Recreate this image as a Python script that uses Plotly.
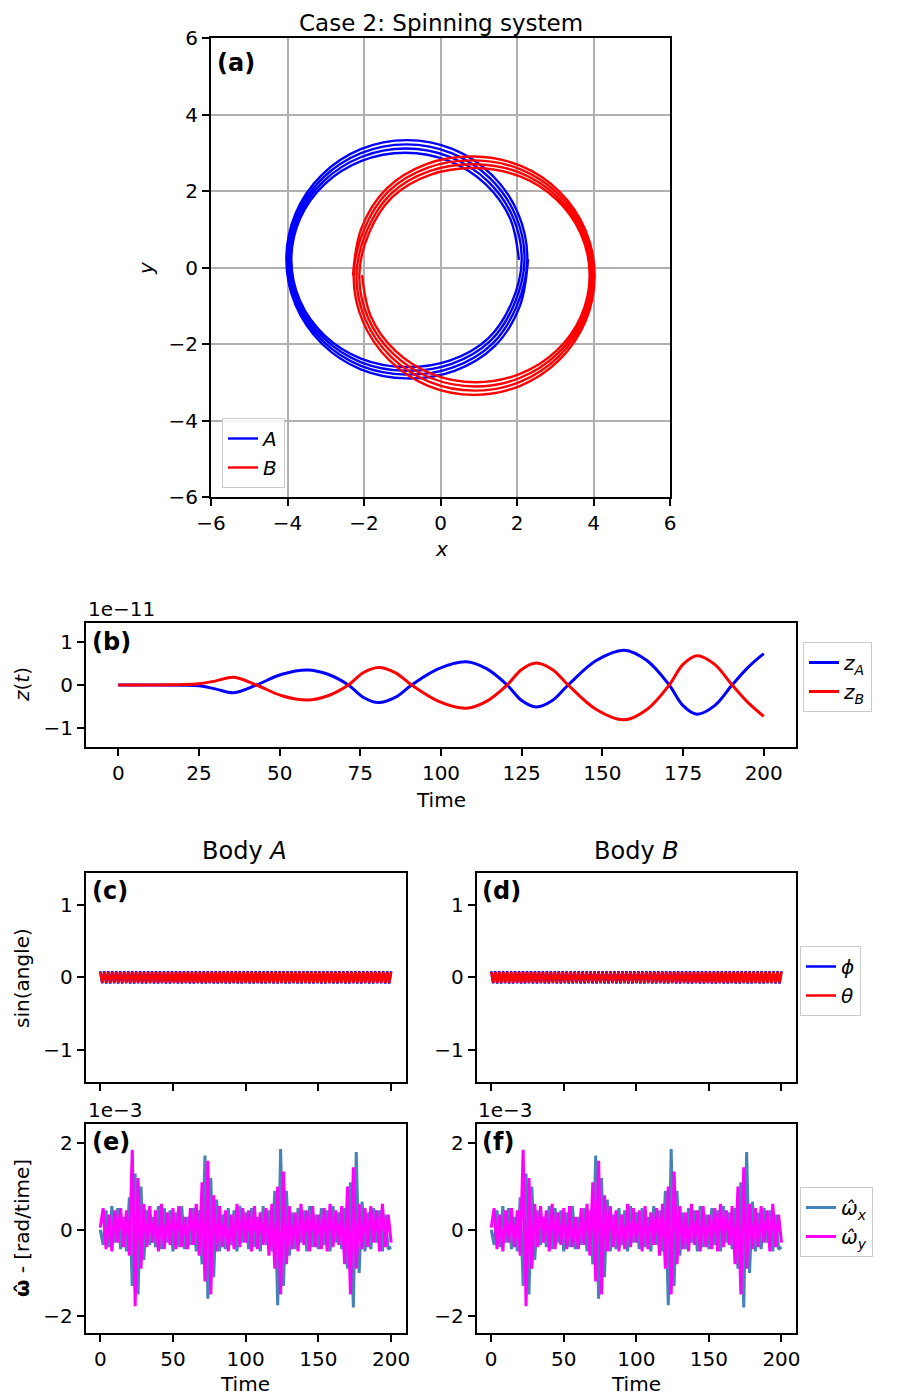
import numpy as np
import plotly.graph_objects as go

# page body has an 8px margin: the figure is placed at (8, 8)
OFF = 8
W, H = 904 - OFF, 1397 - OFF
FONT = "DejaVu Sans"

# ---------------- (a) orbits in the x-y plane ----------------
orbit_A_x = [2.050, 1.824, 1.178, 0.214, -0.925, -2.064, -3.028, -3.674, -3.900, -3.674, -3.028, -2.064, -0.925, 0.254, 1.248, 1.864,
             2.123, 1.892, 1.234, 0.252, -0.910, -2.072, -3.054, -3.712, -3.943, -3.712, -3.054, -2.072, -0.910, 0.292, 1.304, 1.932,
             2.197, 1.962, 1.291, 0.289, -0.895, -2.079, -3.081, -3.752, -3.987, -3.752, -3.081, -2.079, -0.895, 0.329, 1.361, 2.002,
             2.270, 2.031, 1.347, 0.326, -0.880, -2.086, -3.107, -3.791, -4.030, -3.791, -3.107, -2.086, -0.880, 0.366, 1.417, 2.071,
             2.290]
orbit_A_y = [0.200, 1.272, 2.180, 2.787, 3.000, 2.787, 2.180, 1.272, 0.200, -0.872, -1.780, -2.387, -2.600, -2.427, -1.850, -0.912,
             0.205, 1.318, 2.259, 2.889, 3.110, 2.889, 2.259, 1.318, 0.205, -0.908, -1.849, -2.479, -2.700, -2.519, -1.919, -0.948,
             0.210, 1.363, 2.338, 2.991, 3.220, 2.991, 2.338, 1.363, 0.210, -0.943, -1.918, -2.571, -2.800, -2.611, -1.988, -0.983,
             0.215, 1.408, 2.417, 3.093, 3.330, 3.093, 2.417, 1.408, 0.215, -0.978, -1.987, -2.663, -2.900, -2.703, -2.057, -1.018,
             0.220]
orbit_B_x = [-2.050, -1.824, -1.178, -0.214, 0.925, 2.064, 3.028, 3.674, 3.900, 3.674, 3.028, 2.064, 0.925, -0.254, -1.248, -1.864,
             -2.123, -1.892, -1.234, -0.252, 0.910, 2.072, 3.054, 3.712, 3.943, 3.712, 3.054, 2.072, 0.910, -0.292, -1.304, -1.932,
             -2.197, -1.962, -1.291, -0.289, 0.895, 2.079, 3.081, 3.752, 3.987, 3.752, 3.081, 2.079, 0.895, -0.329, -1.361, -2.002,
             -2.270, -2.031, -1.347, -0.326, 0.880, 2.086, 3.107, 3.791, 4.030, 3.791, 3.107, 2.086, 0.880, -0.366, -1.417, -2.071,
             -2.290]
orbit_B_y = [-0.200, -1.272, -2.180, -2.787, -3.000, -2.787, -2.180, -1.272, -0.200, 0.872, 1.780, 2.387, 2.600, 2.427, 1.850, 0.912,
             -0.205, -1.318, -2.259, -2.889, -3.110, -2.889, -2.259, -1.318, -0.205, 0.908, 1.849, 2.479, 2.700, 2.519, 1.919, 0.948,
             -0.210, -1.363, -2.338, -2.991, -3.220, -2.991, -2.338, -1.363, -0.210, 0.943, 1.918, 2.571, 2.800, 2.611, 1.988, 0.983,
             -0.215, -1.408, -2.417, -3.093, -3.330, -3.093, -2.417, -1.408, -0.215, 0.978, 1.987, 2.663, 2.900, 2.703, 2.057, 1.018,
             -0.220]
xy_ticks = [-6, -4, -2, 0, 2, 4, 6]

# ---------------- (b) z(t), units of 1e-11 ----------------
t_z = [0, 10, 20, 25, 30, 35.8, 42.8, 50.7, 58.6, 65, 71.3, 76, 80.6, 85.8, 90.9, 99.3,
       107.7, 114.1, 120.5, 125, 129.5, 134.5, 139.4, 148.1, 156.8, 163.8, 170.7, 175,
       179.3, 184.8, 190.2, 195, 200]
z_A = [0, 0, -0.005, -0.02, -0.09, -0.18, 0, 0.25, 0.35, 0.25, 0, -0.29, -0.41, -0.29, 0, 0.38,
       0.54, 0.38, 0, -0.36, -0.51, -0.36, 0, 0.57, 0.81, 0.57, 0, -0.48,
       -0.68, -0.48, 0, 0.40, 0.73]
z_B = [0, 0, 0.01, 0.03, 0.09, 0.18, 0, -0.25, -0.35, -0.25, 0, 0.29, 0.41, 0.29, 0, -0.38,
       -0.54, -0.38, 0, 0.36, 0.51, 0.36, 0, -0.57, -0.81, -0.57, 0, 0.48,
       0.68, 0.48, 0, -0.40, -0.73]
time_ticks = [0, 25, 50, 75, 100, 125, 150, 175, 200]

# ---------------- (c),(d) sin(angle) ----------------
phi_vals = [
    0.085, -0.084, 0.086, -0.085, 0.084, -0.086, 0.085, -0.084, 0.086, -0.085,
    0.084, -0.085, 0.086, -0.084, 0.085, -0.086, 0.084, -0.085, 0.085, -0.084,
    0.086, -0.085, 0.084, -0.086, 0.085, -0.084, 0.086, -0.085, 0.084, -0.085,
    0.085, -0.084, 0.086, -0.085, 0.084, -0.086, 0.085, -0.084, 0.086, -0.085,
    0.084, -0.085, 0.086, -0.084, 0.085, -0.086, 0.084, -0.085, 0.085, -0.084,
    0.086, -0.085, 0.084, -0.086, 0.085, -0.084, 0.086, -0.085, 0.084, -0.085,
    0.085, -0.084, 0.086, -0.085, 0.084, -0.086, 0.085, -0.084, 0.086, -0.085,
    0.084, -0.085, 0.086, -0.084, 0.085, -0.086, 0.084, -0.085, 0.085, -0.084,
    0.086, -0.085, 0.084, -0.086, 0.085, -0.084, 0.086, -0.085, 0.084, -0.085,
    0.085, -0.084, 0.086, -0.085, 0.084, -0.086, 0.085, -0.084, 0.086, -0.085,
    0.084, -0.085, 0.086, -0.084, 0.085, -0.086, 0.084, -0.085, 0.085, -0.084,
    0.086, -0.085, 0.084, -0.086, 0.085, -0.084, 0.086, -0.085, 0.084, -0.085,
    0.085, -0.084, 0.086, -0.085, 0.084, -0.086, 0.085, -0.084, 0.086, -0.085,
    0.084, -0.085, 0.086, -0.084, 0.085, -0.086, 0.084, -0.085, 0.085, -0.084,
    0.085, -0.084, 0.086, -0.085, 0.084, -0.086, 0.085]
theta_vals = [
    0.075, -0.074, 0.076, -0.075, 0.074, -0.076, 0.075, -0.074, 0.076, -0.075,
    0.074, -0.075, 0.076, -0.074, 0.075, -0.076, 0.074, -0.075, 0.075, -0.074,
    0.076, -0.075, 0.074, -0.076, 0.075, -0.074, 0.076, -0.075, 0.074, -0.075,
    0.075, -0.074, 0.076, -0.075, 0.074, -0.076, 0.075, -0.074, 0.076, -0.075,
    0.074, -0.075, 0.076, -0.074, 0.075, -0.076, 0.074, -0.075, 0.075, -0.074,
    0.076, -0.075, 0.074, -0.076, 0.075, -0.074, 0.076, -0.075, 0.074, -0.075,
    0.075, -0.074, 0.076, -0.075, 0.074, -0.076, 0.075, -0.074, 0.076, -0.075,
    0.074, -0.075, 0.076, -0.074, 0.075, -0.076, 0.074, -0.075, 0.075, -0.074,
    0.076, -0.075, 0.074, -0.076, 0.075, -0.074, 0.076, -0.075, 0.074, -0.075,
    0.075, -0.074, 0.076, -0.075, 0.074, -0.076, 0.075, -0.074, 0.076, -0.075,
    0.074, -0.075, 0.076, -0.074, 0.075, -0.076, 0.074, -0.075, 0.075, -0.074,
    0.076, -0.075, 0.074, -0.076, 0.075, -0.074, 0.076, -0.075, 0.074, -0.075,
    0.075, -0.074, 0.076, -0.075, 0.074, -0.076, 0.075, -0.074, 0.076, -0.075,
    0.074, -0.075, 0.076, -0.074, 0.075, -0.076, 0.074, -0.075, 0.075, -0.074,
    0.075, -0.074, 0.076, -0.075, 0.074, -0.076, 0.075]
angle_ticks = [-1, 0, 1]

# ---------------- (e),(f) body angular velocity, units of 1e-3 ----------------
omega_x = [
    0.0, -0.35, 0.45, -0.4, 0.55, -0.3, 0.5, -0.45, 0.3, -0.5,
    0.75, -1.3, 1.3, -1.5, 1.0, -0.7, 0.45, -0.35, 0.3, -0.4,
    0.55, -0.45, 0.5, -0.3, 0.45, -0.5, 0.4, -0.4, 0.55, -0.45,
    0.3, -0.35, 0.5, -0.5, 0.45, -0.8, 1.72, -1.6, 1.2, -1.1,
    0.7, -0.5, 0.35, -0.45, 0.5, -0.35, 0.45, -0.5, 0.55, -0.3,
    0.4, -0.45, 0.5, -0.4, 0.3, -0.5, 0.55, -0.35, 0.45, -0.5,
    0.9, -1.75, 1.87, -1.3, 0.9, -0.6, 0.4, -0.45, 0.5, -0.3,
    0.45, -0.5, 0.55, -0.4, 0.35, -0.45, 0.5, -0.35, 0.45, -0.5,
    0.55, -0.3, 0.4, -0.45, 0.5, -0.9, 1.1, -1.8, 1.8, -1.0,
    0.65, -0.5, 0.4, -0.45, 0.5, -0.3, 0.45, -0.5, 0.35, -0.45, -0.4]
omega_y = [
    0.05, 0.5, -0.45, 0.35, -0.5, 0.45, -0.3, 0.5, -0.4, 0.45,
    -0.6, 1.85, -1.77, 1.2, -0.9, 0.6, -0.4, 0.55, -0.3, 0.45,
    -0.5, 0.6, -0.45, 0.4, -0.35, 0.5, -0.45, 0.55, -0.4, 0.3,
    -0.45, 0.5, -0.35, 0.6, -0.6, 1.1, -1.2, 1.6, -1.5, 0.8,
    -0.5, 0.55, -0.4, 0.45, -0.5, 0.35, -0.45, 0.6, -0.4, 0.5,
    -0.3, 0.45, -0.5, 0.55, -0.45, 0.4, -0.35, 0.5, -0.6, 0.6,
    -0.9, 1.0, -1.5, 1.35, -0.8, 0.55, -0.45, 0.4, -0.5, 0.6,
    -0.35, 0.45, -0.5, 0.55, -0.4, 0.35, -0.45, 0.5, -0.5, 0.6,
    -0.4, 0.45, -0.35, 0.55, -0.8, 1.0, -1.5, 1.45, -0.9, 0.6,
    -0.45, 0.5, -0.4, 0.55, -0.3, 0.45, -0.5, 0.6, -0.4, 0.35, -0.3]
omega_ticks = [-2, 0, 2]
body_time_ticks = [0, 50, 100, 150, 200]

t_angle = np.linspace(0, 200, len(phi_vals))
t_omega = np.linspace(0, 200, len(omega_x))


def fx(px):
    return (px - OFF) / W


def fy(py):
    return 1 - (py - OFF) / H


fig = go.Figure()

# (a)
fig.add_trace(go.Scatter(x=orbit_A_x, y=orbit_A_y, mode="lines", name="<i>A</i>",
                         line=dict(color="blue", width=2.4, shape="spline", smoothing=1),
                         xaxis="x", yaxis="y", legend="legend"))
fig.add_trace(go.Scatter(x=orbit_B_x, y=orbit_B_y, mode="lines", name="<i>B</i>",
                         line=dict(color="red", width=2.4, shape="spline", smoothing=1),
                         xaxis="x", yaxis="y", legend="legend"))
# (b)
fig.add_trace(go.Scatter(x=t_z, y=z_A, mode="lines", name="<i>z</i><sub><i>A</i></sub>",
                         line=dict(color="blue", width=3, shape="spline", smoothing=1),
                         xaxis="x2", yaxis="y2", legend="legend2"))
fig.add_trace(go.Scatter(x=t_z, y=z_B, mode="lines", name="<i>z</i><sub><i>B</i></sub>",
                         line=dict(color="red", width=3, shape="spline", smoothing=1),
                         xaxis="x2", yaxis="y2", legend="legend2"))
# (c),(d)
for i, (xa, ya) in enumerate([("x3", "y3"), ("x4", "y4")]):
    fig.add_trace(go.Scatter(x=t_angle, y=phi_vals, mode="lines", name="<i>ϕ</i>",
                             line=dict(color="blue", width=2.5), showlegend=(i == 1),
                             xaxis=xa, yaxis=ya, legend="legend3"))
    fig.add_trace(go.Scatter(x=t_angle, y=theta_vals, mode="lines", name="<i>θ</i>",
                             line=dict(color="red", width=2.5), showlegend=(i == 1),
                             xaxis=xa, yaxis=ya, legend="legend3"))
# (e),(f)
for i, (xa, ya) in enumerate([("x5", "y5"), ("x6", "y6")]):
    fig.add_trace(go.Scatter(x=t_omega, y=omega_x, mode="lines", name="<i>ω̂</i><sub><i>x</i></sub>",
                             line=dict(color="#4682b4", width=3), showlegend=(i == 1),
                             xaxis=xa, yaxis=ya, legend="legend4"))
    fig.add_trace(go.Scatter(x=t_omega, y=omega_y, mode="lines", name="<i>ω̂</i><sub><i>y</i></sub>",
                             line=dict(color="#ff00ff", width=3), showlegend=(i == 1),
                             xaxis=xa, yaxis=ya, legend="legend4"))

tickfont = dict(family=FONT, size=20, color="black")
base = dict(showline=True, linecolor="black", linewidth=2, mirror=True, ticks="outside",
            ticklen=7, tickwidth=1.6, tickcolor="black", tickfont=tickfont,
            showgrid=False, zeroline=False, automargin=False)

# panel boxes in reference pixels: ([left, right], [top, bottom])
dom = {
    "a": ([211, 670], [38, 497]),
    "b": ([86, 796], [622.7, 747.3]),
    "c": ([85.7, 405.7], [872.7, 1082]),
    "d": ([476.7, 796], [872.7, 1082]),
    "e": ([85.7, 405.7], [1124, 1332.5]),
    "f": ([476.7, 796], [1124, 1332.5]),
}


def xd(k):
    a, b = dom[k][0]
    return [fx(a), fx(b)]


def yd(k):
    a, b = dom[k][1]
    return [fy(b), fy(a)]


grid = dict(showgrid=True, gridcolor="#b0b0b0", gridwidth=1.6)
layout_axes = dict(
    xaxis=dict(base, **grid, domain=xd("a"), anchor="y", range=[-6, 6], tickvals=xy_ticks),
    yaxis=dict(base, **grid, domain=yd("a"), anchor="x", range=[-6, 6], tickvals=xy_ticks),
    xaxis2=dict(base, domain=xd("b"), anchor="y2", range=[-10, 210], tickvals=time_ticks),
    yaxis2=dict(base, domain=yd("b"), anchor="x2", range=[-1.45, 1.45], tickvals=[-1, 0, 1]),
    xaxis3=dict(base, domain=xd("c"), anchor="y3", range=[-10, 210], tickvals=body_time_ticks,
                showticklabels=False),
    yaxis3=dict(base, domain=yd("c"), anchor="x3", range=[-1.45, 1.45], tickvals=angle_ticks),
    xaxis4=dict(base, domain=xd("d"), anchor="y4", range=[-10, 210], tickvals=body_time_ticks,
                showticklabels=False),
    yaxis4=dict(base, domain=yd("d"), anchor="x4", range=[-1.45, 1.45], tickvals=angle_ticks),
    xaxis5=dict(base, domain=xd("e"), anchor="y5", range=[-10, 210], tickvals=body_time_ticks),
    yaxis5=dict(base, domain=yd("e"), anchor="x5", range=[-2.38, 2.45], tickvals=omega_ticks),
    xaxis6=dict(base, domain=xd("f"), anchor="y6", range=[-10, 210], tickvals=body_time_ticks),
    yaxis6=dict(base, domain=yd("f"), anchor="x6", range=[-2.38, 2.45], tickvals=omega_ticks),
)

legend_style = dict(xanchor="left", yanchor="top", bgcolor="rgba(255,255,255,0.85)",
                    bordercolor="#cccccc", borderwidth=1,
                    font=dict(family=FONT, size=20, color="black"))


def ann(text, x, y, size=20, angle=0, xanchor="center"):
    return dict(text=text, x=fx(x), y=fy(y), xref="paper", yref="paper", showarrow=False,
                xanchor=xanchor, yanchor="middle", textangle=angle,
                font=dict(family=FONT, size=size, color="black"))


annotations = [
    ann("Case 2: Spinning system", 441, 23, size=23),
    ann("<i>x</i>", 441, 549),
    ann("<i>y</i>", 146, 268, angle=-90),
    ann("<b>(a)</b>", 215, 63, size=24, xanchor="left"),
    ann("1e−11", 86, 609, xanchor="left"),
    ann("<i>z</i>(<i>t</i>)", 22, 685, angle=-90),
    ann("<b>(b)</b>", 90, 642, size=24, xanchor="left"),
    ann("Time", 441, 800),
    ann("Body <i>A</i>", 245, 851, size=24),
    ann("Body <i>B</i>", 636, 851, size=24),
    ann("sin(angle)", 22, 978, angle=-90),
    ann("<b>(c)</b>", 90, 891, size=24, xanchor="left"),
    ann("<b>(d)</b>", 480, 891, size=24, xanchor="left"),
    ann("1e−3", 86, 1110, xanchor="left"),
    ann("1e−3", 476, 1110, xanchor="left"),
    ann("<b>(e)</b>", 90, 1142, size=24, xanchor="left"),
    ann("<b>(f)</b>", 480, 1142, size=24, xanchor="left"),
    ann("<b>ω̂</b> - [rad/time]", 22, 1228, angle=-90),
    ann("Time", 245, 1384),
    ann("Time", 636, 1384),
]

fig.update_layout(
    width=W, height=H,
    margin=dict(l=0, r=0, t=0, b=0),
    paper_bgcolor="white", plot_bgcolor="white",
    font=dict(family=FONT, size=20, color="black"),
    legend=dict(legend_style, x=fx(222), y=fy(418)),
    legend2=dict(legend_style, x=fx(803), y=fy(642)),
    legend3=dict(legend_style, x=fx(800), y=fy(946)),
    legend4=dict(legend_style, x=fx(800), y=fy(1187)),
    annotations=annotations,
    **layout_axes,
)

fig.write_html("out.html")
